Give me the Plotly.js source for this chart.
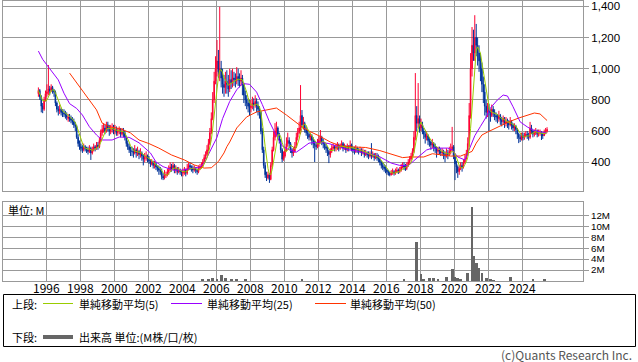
<!DOCTYPE html>
<html><head><meta charset="utf-8">
<script src="https://cdn.plot.ly/plotly-3.0.1.min.js"></script>
<style>html,body{margin:0;padding:0;background:#fff;}#chart{width:638px;height:362px;}</style>
</head><body><div id="chart"></div>
<script>
// Monthly candles, first month = 1995-07
const firstMonth = "1995-07";
const open = [
 840,860,820,760,740,800,
 840,850,870,860,880,860,850,780,740,730,740,720,
 715,710,700,680,690,680,670,660,640,630,560,520,
 500,490,480,500,490,480,470,490,460,480,500,490,
 510,500,540,590,610,620,600,640,620,600,610,620,
 600,610,590,600,610,580,600,590,560,520,500,480,
 470,470,460,480,460,470,450,460,440,420,430,440,
 420,410,390,400,380,390,370,360,350,340,310,300,
 320,320,340,350,370,360,380,350,360,340,350,340,
 330,340,350,330,360,380,370,360,350,360,350,340,
 360,370,380,400,430,450,480,520,590,680,800,920,
 1000,1050,980,1000,940,900,880,920,900,870,930,910,
 940,930,920,950,930,920,940,900,830,800,780,760,
 750,760,780,770,790,760,740,720,600,480,380,320,
 300,320,290,380,480,560,600,620,580,540,480,420,
 440,480,520,540,520,480,460,470,500,560,590,590,
 700,640,650,610,590,580,560,570,540,520,510,500,
 520,540,560,530,520,500,490,470,450,470,490,500,
 490,500,510,490,500,520,490,500,480,500,490,510,
 490,480,470,490,480,470,480,460,470,450,460,450,
 440,450,440,450,430,440,430,420,400,380,370,360,
 350,340,330,320,330,340,330,340,350,340,350,370,
 380,370,360,380,400,420,440,470,560,700,650,680,
 620,640,600,580,560,570,540,530,510,520,500,490,
 470,480,470,460,470,450,440,460,450,470,480,500,
 440,390,370,340,360,380,370,400,420,450,520,700,
 1000,1150,1100,1200,1150,1100,1050,1000,900,850,760,720,
 730,720,700,740,720,700,690,680,700,670,660,680,
 650,660,650,640,660,640,620,630,610,580,560,550,
 570,560,570,580,570,560,620,600,580,590,600,580,
 590,590,580,570,590,600
];
const high = [
 880,870,830,780,820,860,
 900,1024,890,900,890,870,860,790,760,770,750,740,
 740,730,720,710,710,700,690,680,660,640,580,540,
 520,510,520,510,500,500,510,500,500,520,510,530,
 530,560,610,640,650,640,660,660,640,640,650,640,
 640,630,620,630,620,620,620,600,570,540,520,500,
 500,490,510,490,500,480,490,470,450,460,470,450,
 440,420,420,410,410,400,380,380,370,360,330,350,
 340,360,380,400,390,400,390,380,370,370,360,350,
 360,370,360,390,400,400,380,380,380,370,360,380,
 390,400,420,450,470,510,550,620,720,850,980,1080,
 1184,1120,1397,1050,1000,960,980,990,960,1000,990,1000,
 980,970,1010,1000,970,990,960,910,860,830,810,800,
 800,820,810,830,810,790,760,730,620,500,400,340,
 340,330,400,500,600,651,660,630,590,550,490,470,
 500,560,590,560,530,490,500,530,590,620,660,895,
 735,691,660,630,610,600,590,580,560,540,530,550,
 570,607,570,550,530,520,500,480,490,510,520,510,
 520,530,520,520,540,530,520,510,520,510,540,520,
 500,500,510,500,490,500,490,490,480,480,470,470,
 470,523,470,460,460,460,450,430,410,400,390,380,
 360,350,340,350,360,350,360,370,360,370,390,400,
 400,390,400,420,440,460,490,600,972,760,908,700,
 680,660,620,600,600,580,560,540,550,530,520,500,
 500,500,490,490,480,470,490,480,500,520,627,510,
 450,410,380,380,400,400,420,450,480,560,780,1100,
 1267,1250,1343,1287,1200,1150,1100,1040,950,900,800,780,
 776,740,770,760,740,720,710,730,710,690,700,690,
 690,680,670,690,670,650,650,640,620,590,580,590,
 590,590,600,600,590,659,640,610,610,620,610,610,
 610,600,590,610,620,625
];
const low = [
 820,800,720,715,730,790,
 820,830,830,850,840,820,760,720,700,710,700,690,
 690,680,670,660,660,650,640,620,600,550,500,480,
 470,460,470,470,460,450,460,415,450,470,470,480,
 480,490,530,570,590,580,590,600,570,580,590,580,
 580,570,570,580,560,570,560,540,500,480,460,440,
 440,430,450,430,440,420,430,410,380,400,410,400,
 390,370,380,360,360,350,340,320,320,290,286,290,
 300,310,320,340,340,350,330,330,320,330,320,310,
 310,320,310,320,350,350,340,330,340,330,320,330,
 350,360,370,390,420,440,470,510,580,670,780,900,
 950,940,920,880,840,820,840,840,820,850,870,880,
 890,880,900,890,880,890,830,780,760,740,720,700,
 720,740,730,750,720,700,680,580,460,360,300,280,
 290,268,285,370,470,540,570,560,520,460,400,410,
 430,470,500,490,460,430,440,460,490,540,580,580,
 620,610,590,570,550,540,540,510,490,402,480,490,
 500,520,510,490,480,460,440,395,430,460,480,470,
 470,480,470,480,490,470,480,460,470,470,480,470,
 460,450,460,460,450,460,440,450,430,440,430,420,
 430,420,430,410,420,410,400,380,360,350,340,330,
 320,315,310,315,320,315,320,330,325,330,340,360,
 350,345,350,370,390,410,430,460,540,600,620,590,
 600,580,550,520,540,510,500,480,490,470,460,430,
 450,450,440,440,420,400,430,420,440,450,470,420,
 286,330,300,320,350,340,360,390,420,440,500,680,
 950,1050,1050,1080,1020,980,920,850,780,700,680,690,
 600,660,690,690,670,660,650,660,640,630,640,620,
 630,620,610,630,610,600,600,580,550,523,530,540,
 540,545,560,550,540,550,580,560,565,575,560,565,
 570,543,550,570,580,590
];
const close = [
 860,820,760,740,800,840,
 850,870,860,880,860,850,780,740,730,740,720,715,
 710,700,690,690,680,670,660,640,630,560,520,500,
 490,480,500,490,480,470,490,460,480,500,490,510,
 500,540,590,610,620,600,640,620,600,610,620,600,
 610,590,600,610,580,600,590,560,520,500,480,470,
 470,460,480,460,470,450,460,440,420,430,440,420,
 410,390,400,380,390,370,360,350,340,310,300,320,
 320,340,350,370,360,380,350,360,340,350,340,330,
 340,350,330,360,380,370,360,350,360,350,340,360,
 370,380,400,430,450,480,520,590,680,800,920,1000,
 1050,980,1000,940,900,880,920,900,870,930,910,940,
 930,920,950,930,920,940,900,830,800,780,760,750,
 760,780,770,790,760,740,720,600,480,380,320,300,
 320,290,380,480,560,600,620,580,540,480,420,440,
 480,520,540,520,480,460,470,500,560,590,620,700,
 640,650,610,590,580,560,570,540,520,510,500,520,
 540,560,530,520,500,490,470,450,470,490,500,490,
 500,510,490,500,520,490,500,480,500,490,510,490,
 480,470,490,480,470,480,460,470,450,460,450,440,
 450,440,450,430,440,430,420,400,380,370,360,350,
 340,330,320,330,340,330,340,350,340,350,370,380,
 370,360,380,400,420,440,470,560,700,650,680,620,
 640,600,580,560,570,540,530,510,520,500,490,470,
 480,470,460,470,450,440,460,450,470,480,500,440,
 390,370,340,360,380,370,400,420,450,520,700,1000,
 1150,1100,1200,1150,1100,1050,1000,900,850,760,720,730,
 720,700,740,720,700,690,680,700,670,660,680,650,
 660,650,640,660,640,620,630,610,580,560,550,570,
 560,570,580,570,560,620,600,580,590,600,580,590,
 590,580,570,590,600,610
];
// 25- and 50-period moving averages
const ma25Months = ["1995-07","1995-10","1996-03","1996-09","1997-01","1997-05","1997-10","1998-02","1998-07","1998-12","1999-04","1999-11","2000-04","2000-11","2001-06","2002-02","2002-06","2002-11","2003-06","2004-01","2004-08","2005-01","2005-04","2005-08","2006-01","2006-05","2006-10","2007-03","2007-07","2007-12","2008-05","2008-09","2009-02","2009-07","2009-11","2010-04","2010-09","2011-01","2011-06","2012-01","2012-08","2013-03","2013-10","2014-05","2015-01","2015-07","2015-11","2016-04","2016-10","2017-04","2017-11","2018-05","2018-09","2019-08","2019-11","2020-03","2020-08","2020-10","2021-03","2021-07","2021-11","2022-02","2022-07","2022-11","2023-02","2023-06","2023-09","2023-11","2024-04","2024-08","2025-01","2025-06"];
const ma25Values = [1113,1060,1000,928,843,776,745,703,628,575,543,543,562,560,525,460,402,372,350,350,363,370,395,470,560,680,790,865,905,900,850,770,660,570,505,480,465,490,523,530,520,500,480,470,455,440,420,395,380,378,434,479,491,491,480,434,415,460,570,630,690,748,800,831,825,756,691,659,627,607,595,588];
const ma50Months = ["1997-05","1997-12","1998-07","1998-12","1999-04","1999-09","2000-05","2000-12","2001-06","2002-01","2002-08","2003-05","2004-02","2004-09","2005-04","2005-09","2006-02","2006-06","2006-08","2006-10","2007-03","2007-10","2008-05","2008-12","2009-07","2010-02","2010-09","2011-01","2011-06","2012-01","2012-09","2013-04","2014-01","2014-10","2015-08","2016-05","2016-12","2017-05","2018-03","2018-09","2019-04","2019-10","2020-05","2020-10","2021-01","2021-04","2021-08","2021-12","2022-06","2023-03","2023-10","2024-04","2024-09","2025-01","2025-04","2025-06"];
const ma50Values = [972,883,800,736,651,628,615,588,543,520,491,447,415,383,363,365,405,460,500,530,620,691,723,735,748,703,651,627,600,570,530,505,498,495,475,447,430,434,434,455,445,440,440,460,470,523,575,594,620,659,684,703,716,710,684,668];
// Volume (millions), months with visible bars
const volMonths = ["2005-03","2005-07","2005-10","2006-01","2006-04","2006-07","2006-11","2007-03","2007-09","2011-01","2017-01","2017-10","2018-01","2018-03","2018-07","2018-10","2019-01","2019-07","2019-11","2020-01","2020-03","2020-05","2020-10","2021-01","2021-02","2021-04","2021-06","2021-08","2021-11","2022-02","2022-04","2023-04","2024-08","2025-04"];
const volValues = [0.3,0.4,0.5,0.4,1.1,0.5,0.3,0.3,0.3,0.3,0.3,7.1,1.3,0.4,0.5,0.5,0.3,0.7,2.2,0.7,0.5,0.3,1.5,13.4,4.5,3.3,2.4,1.4,0.6,0.3,0.2,0.7,0.4,0.3];
const yearTicks = ["1996","1998","2000","2002","2004","2006","2008","2010","2012","2014","2016","2018","2020","2022","2024"];
const priceTicks = [400,600,800,1000,1200,1400];
const volTicks = [2,4,6,8,10,12];
const volTickText = ["2M","4M","6M","8M","10M","12M"];

// ---- build ----
const mid = m => m + "-15";
const dates = [];
{
  let y = +firstMonth.slice(0,4), m = +firstMonth.slice(5,7);
  for (let i = 0; i < close.length; i++) {
    dates.push(y + "-" + String(m).padStart(2,"0") + "-15");
    m++; if (m > 12) { m = 1; y++; }
  }
}
const ma5 = close.map((c, i) => {
  const s = close.slice(Math.max(0, i - 4), i + 1);
  return s.reduce((a, b) => a + b, 0) / s.length;
});

const RED = "#ff0033", BLUE = "#003399", GREEN = "#99cc00", PURPLE = "#9900ff", ORANGE = "#ff3300", GRID = "#999999";
const W = 638, H = 362;
const px = v => v / W, py = v => 1 - v / H;
const FONT = '"Noto Sans CJK JP", "Noto Sans", sans-serif';
const NUMFONT = '"Liberation Sans", Arial, sans-serif';

const traces = [
  {type:"candlestick", x:dates, open, high, low, close, xaxis:"x", yaxis:"y",
   increasing:{line:{color:RED,width:1}, fillcolor:RED},
   decreasing:{line:{color:BLUE,width:1}, fillcolor:BLUE},
   whiskerwidth:0, hoverinfo:"skip"},
  {type:"scatter", mode:"lines", x:ma50Months.map(mid), y:ma50Values, line:{color:ORANGE,width:1}, xaxis:"x", yaxis:"y", hoverinfo:"skip"},
  {type:"scatter", mode:"lines", x:ma25Months.map(mid), y:ma25Values, line:{color:PURPLE,width:1}, xaxis:"x", yaxis:"y", hoverinfo:"skip"},
  {type:"scatter", mode:"lines", x:dates, y:ma5, line:{color:GREEN,width:1}, xaxis:"x", yaxis:"y", hoverinfo:"skip"},
  {type:"bar", x:volMonths.map(mid), y:volValues, width:60*86400000, marker:{color:"#666666", line:{width:0}}, xaxis:"x2", yaxis:"y2", hoverinfo:"skip"}
];

const xCommon = {type:"date", range:["1993-06-15","2027-07-27"], tickmode:"array",
  tickvals:yearTicks.map(y => y + "-01-01"), ticktext:yearTicks,
  showgrid:true, gridcolor:GRID, gridwidth:1, showline:true, linecolor:GRID, linewidth:1, mirror:true,
  zeroline:false, ticks:"", fixedrange:true};
const layout = {
  width:W, height:H, margin:{l:0,r:0,t:0,b:0}, paper_bgcolor:"#fff", plot_bgcolor:"#fff",
  showlegend:false, font:{family:FONT, size:12, color:"#000"},
  xaxis:Object.assign({}, xCommon, {domain:[px(3),px(583)], anchor:"y", showticklabels:false, rangeslider:{visible:false}}),
  xaxis2:Object.assign({}, xCommon, {domain:[px(3),px(583)], anchor:"y2", showticklabels:true, tickfont:{size:12}, ticklabelstandoff:-3}),
  yaxis:{domain:[py(191),py(1)], anchor:"x", side:"right", range:[216,1434], tickvals:priceTicks, tickformat:",d",
    ticks:"outside", ticklen:5, tickcolor:GRID, showgrid:true, gridcolor:GRID, showline:true, linecolor:GRID, mirror:true, zeroline:false, tickfont:{family:NUMFONT, size:11.5}, ticklabeloverflow:"allow", fixedrange:true},
  yaxis2:{domain:[py(281),py(202)], anchor:"x2", side:"right", range:[0,14.4], tickvals:volTicks, ticktext:volTickText,
    ticks:"outside", ticklen:5, tickcolor:GRID, showgrid:true, gridcolor:GRID, showline:true, linecolor:GRID, mirror:true, zeroline:false, tickfont:{family:NUMFONT, size:9.8}, ticklabeloverflow:"allow", fixedrange:true},
  bargap:0,
  shapes:[
    {type:"rect", xref:"paper", yref:"paper", x0:px(3.5), x1:px(635.5), y0:py(346.5), y1:py(294.5), line:{color:"#000",width:1}},
    {type:"line", xref:"paper", yref:"paper", x0:px(43), x1:px(73), y0:py(303.5), y1:py(303.5), line:{color:GREEN,width:1}},
    {type:"line", xref:"paper", yref:"paper", x0:px(171), x1:px(202), y0:py(303.5), y1:py(303.5), line:{color:PURPLE,width:1}},
    {type:"line", xref:"paper", yref:"paper", x0:px(315), x1:px(346), y0:py(303.5), y1:py(303.5), line:{color:ORANGE,width:1}},
    {type:"line", xref:"paper", yref:"paper", x0:px(43), x1:px(73), y0:py(337), y1:py(337), line:{color:"#666666",width:4}}
  ],
  annotations:[
    {text:"上段:", x:px(10), y:py(303.5)},
    {text:"単純移動平均(5)", x:px(77), y:py(303.5)},
    {text:"単純移動平均(25)", x:px(205), y:py(303.5)},
    {text:"単純移動平均(50)", x:px(348), y:py(303.5)},
    {text:"下段:", x:px(10), y:py(337)},
    {text:"出来高 単位:(M株/口/枚)", x:px(77), y:py(337)},
    {text:"単位: M", x:px(6), y:py(210)},
    {text:"(c)Quants Research Inc.", x:px(499), y:py(354), font:{size:12,color:"#555555"}}
  ].map(a => Object.assign({xref:"paper", yref:"paper", xanchor:"left", yanchor:"middle", showarrow:false, font:{size:11,color:"#000"}}, a))
};
Plotly.newPlot("chart", traces, layout, {staticPlot:true, displayModeBar:false});
</script></body></html>
